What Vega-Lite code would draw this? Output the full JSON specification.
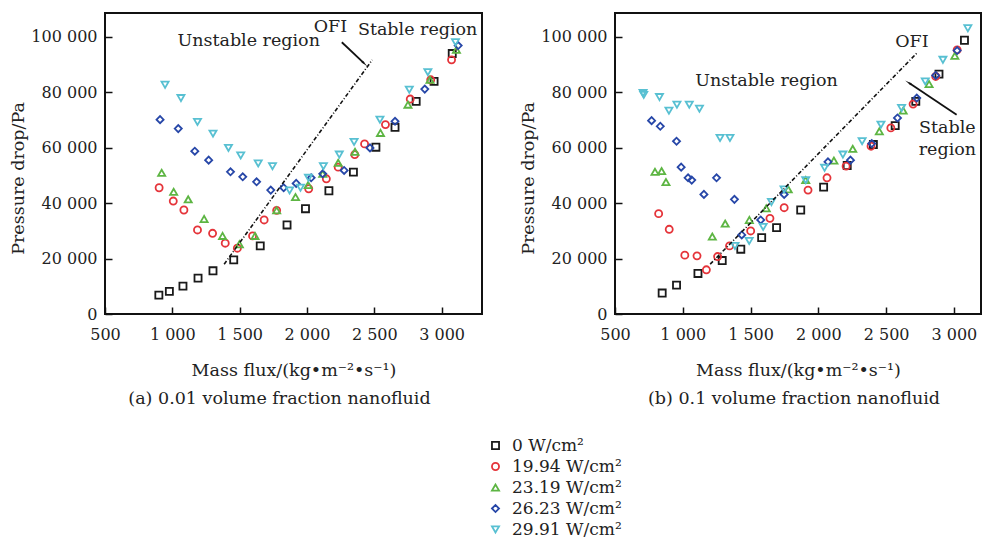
{
  "$schema": "https://vega.github.io/schema/vega-lite/v6.json",
  "background": "white",
  "padding": {"left": 8, "top": 12, "right": 0, "bottom": 0},
  "spacing": 35,
  "config": {
    "font": "DejaVu Serif",
    "view": {"stroke": "#111111", "strokeWidth": 2},
    "axis": {"domain": false, "grid": false, "tickColor": "#111111", "tickSize": -7, "tickWidth": 1.5, "labelFont": "DejaVu Serif", "labelFontSize": 16, "labelColor": "#222222", "titleFont": "DejaVu Serif", "titleFontSize": 17.5, "titleFontWeight": "normal", "titleColor": "#222222", "labelFlush": false},
    "axisX": {"labelPadding": 19, "titlePadding": 19},
    "axisY": {"labelPadding": 15, "titlePadding": 3},
    "title": {"font": "DejaVu Serif", "fontSize": 17.5, "fontWeight": "normal", "color": "#222222", "orient": "bottom", "offset": 11}
  },
  "datasets": {
    "a": [
      {"q": "0 W/cm²", "G": 900, "P": 6800}, {"q": "0 W/cm²", "G": 978, "P": 8150}, {"q": "0 W/cm²", "G": 1079, "P": 10060}, {"q": "0 W/cm²", "G": 1191, "P": 12940}, {"q": "0 W/cm²", "G": 1302, "P": 15570}, {"q": "0 W/cm²", "G": 1456, "P": 19520}, {"q": "0 W/cm²", "G": 1653, "P": 24550}, {"q": "0 W/cm²", "G": 1852, "P": 32100}, {"q": "0 W/cm²", "G": 1989, "P": 37960}, {"q": "0 W/cm²", "G": 2163, "P": 44430}, {"q": "0 W/cm²", "G": 2345, "P": 51140}, {"q": "0 W/cm²", "G": 2512, "P": 60120}, {"q": "0 W/cm²", "G": 2654, "P": 67310}, {"q": "0 W/cm²", "G": 2811, "P": 76650}, {"q": "0 W/cm²", "G": 2944, "P": 83830}, {"q": "0 W/cm²", "G": 3079, "P": 93890},
      {"q": "19.94 W/cm²", "G": 902, "P": 45510}, {"q": "19.94 W/cm²", "G": 1007, "P": 40720}, {"q": "19.94 W/cm²", "G": 1086, "P": 37490}, {"q": "19.94 W/cm²", "G": 1187, "P": 30300}, {"q": "19.94 W/cm²", "G": 1299, "P": 29100}, {"q": "19.94 W/cm²", "G": 1393, "P": 25510}, {"q": "19.94 W/cm²", "G": 1483, "P": 23710}, {"q": "19.94 W/cm²", "G": 1596, "P": 28140}, {"q": "19.94 W/cm²", "G": 1682, "P": 33890}, {"q": "19.94 W/cm²", "G": 1775, "P": 37370}, {"q": "19.94 W/cm²", "G": 2013, "P": 45150}, {"q": "19.94 W/cm²", "G": 2144, "P": 48740}, {"q": "19.94 W/cm²", "G": 2232, "P": 52930}, {"q": "19.94 W/cm²", "G": 2355, "P": 57480}, {"q": "19.94 W/cm²", "G": 2428, "P": 61320}, {"q": "19.94 W/cm²", "G": 2583, "P": 68270}, {"q": "19.94 W/cm²", "G": 2767, "P": 77490}, {"q": "19.94 W/cm²", "G": 2919, "P": 84430}, {"q": "19.94 W/cm²", "G": 3074, "P": 91620},
      {"q": "23.19 W/cm²", "G": 921, "P": 50900}, {"q": "23.19 W/cm²", "G": 1010, "P": 44070}, {"q": "23.19 W/cm²", "G": 1118, "P": 41320}, {"q": "23.19 W/cm²", "G": 1236, "P": 34250}, {"q": "23.19 W/cm²", "G": 1373, "P": 28140}, {"q": "23.19 W/cm²", "G": 1498, "P": 25150}, {"q": "23.19 W/cm²", "G": 1614, "P": 28140}, {"q": "23.19 W/cm²", "G": 1775, "P": 37370}, {"q": "23.19 W/cm²", "G": 1915, "P": 42160}, {"q": "23.19 W/cm²", "G": 2009, "P": 46470}, {"q": "23.19 W/cm²", "G": 2117, "P": 50540}, {"q": "23.19 W/cm²", "G": 2232, "P": 54490}, {"q": "23.19 W/cm²", "G": 2357, "P": 58440}, {"q": "23.19 W/cm²", "G": 2546, "P": 65270}, {"q": "23.19 W/cm²", "G": 2750, "P": 75450}, {"q": "23.19 W/cm²", "G": 2914, "P": 84430}, {"q": "23.19 W/cm²", "G": 3110, "P": 95210},
      {"q": "26.23 W/cm²", "G": 909, "P": 70060}, {"q": "26.23 W/cm²", "G": 1044, "P": 66830}, {"q": "26.23 W/cm²", "G": 1167, "P": 58680}, {"q": "26.23 W/cm²", "G": 1270, "P": 55450}, {"q": "26.23 W/cm²", "G": 1432, "P": 51260}, {"q": "26.23 W/cm²", "G": 1523, "P": 49460}, {"q": "26.23 W/cm²", "G": 1626, "P": 47660}, {"q": "26.23 W/cm²", "G": 1731, "P": 44670}, {"q": "26.23 W/cm²", "G": 1827, "P": 45510}, {"q": "26.23 W/cm²", "G": 1920, "P": 47070}, {"q": "26.23 W/cm²", "G": 2031, "P": 49100}, {"q": "26.23 W/cm²", "G": 2117, "P": 50540}, {"q": "26.23 W/cm²", "G": 2276, "P": 51740}, {"q": "26.23 W/cm²", "G": 2468, "P": 59880}, {"q": "26.23 W/cm²", "G": 2654, "P": 69460}, {"q": "26.23 W/cm²", "G": 2875, "P": 81080}, {"q": "26.23 W/cm²", "G": 3123, "P": 96770},
      {"q": "29.91 W/cm²", "G": 946, "P": 82630}, {"q": "29.91 W/cm²", "G": 1064, "P": 77840}, {"q": "29.91 W/cm²", "G": 1187, "P": 69220}, {"q": "29.91 W/cm²", "G": 1302, "P": 65030}, {"q": "29.91 W/cm²", "G": 1417, "P": 59880}, {"q": "29.91 W/cm²", "G": 1508, "P": 57130}, {"q": "29.91 W/cm²", "G": 1638, "P": 54250}, {"q": "29.91 W/cm²", "G": 1744, "P": 53290}, {"q": "29.91 W/cm²", "G": 1871, "P": 44550}, {"q": "29.91 W/cm²", "G": 1952, "P": 45510}, {"q": "29.91 W/cm²", "G": 2011, "P": 49100}, {"q": "29.91 W/cm²", "G": 2122, "P": 53290}, {"q": "29.91 W/cm²", "G": 2240, "P": 57480}, {"q": "29.91 W/cm²", "G": 2350, "P": 62030}, {"q": "29.91 W/cm²", "G": 2542, "P": 70060}, {"q": "29.91 W/cm²", "G": 2760, "P": 80840}, {"q": "29.91 W/cm²", "G": 2898, "P": 87190}, {"q": "29.91 W/cm²", "G": 3103, "P": 97960}
    ],
    "b": [
      {"q": "0 W/cm²", "G": 848, "P": 7550}, {"q": "0 W/cm²", "G": 954, "P": 10420}, {"q": "0 W/cm²", "G": 1112, "P": 14610}, {"q": "0 W/cm²", "G": 1291, "P": 19280}, {"q": "0 W/cm²", "G": 1428, "P": 23350}, {"q": "0 W/cm²", "G": 1582, "P": 27550}, {"q": "0 W/cm²", "G": 1692, "P": 31140}, {"q": "0 W/cm²", "G": 1870, "P": 37490}, {"q": "0 W/cm²", "G": 2039, "P": 45750}, {"q": "0 W/cm²", "G": 2213, "P": 53530}, {"q": "0 W/cm²", "G": 2406, "P": 61080}, {"q": "0 W/cm²", "G": 2567, "P": 67900}, {"q": "0 W/cm²", "G": 2719, "P": 76650}, {"q": "0 W/cm²", "G": 2890, "P": 86470}, {"q": "0 W/cm²", "G": 3078, "P": 98680},
      {"q": "19.94 W/cm²", "G": 822, "P": 36170}, {"q": "19.94 W/cm²", "G": 900, "P": 30540}, {"q": "19.94 W/cm²", "G": 1015, "P": 21200}, {"q": "19.94 W/cm²", "G": 1105, "P": 20960}, {"q": "19.94 W/cm²", "G": 1174, "P": 15930}, {"q": "19.94 W/cm²", "G": 1257, "P": 20720}, {"q": "19.94 W/cm²", "G": 1345, "P": 24550}, {"q": "19.94 W/cm²", "G": 1501, "P": 29940}, {"q": "19.94 W/cm²", "G": 1643, "P": 34490}, {"q": "19.94 W/cm²", "G": 1748, "P": 38320}, {"q": "19.94 W/cm²", "G": 1924, "P": 44670}, {"q": "19.94 W/cm²", "G": 2064, "P": 49100}, {"q": "19.94 W/cm²", "G": 2205, "P": 53290}, {"q": "19.94 W/cm²", "G": 2389, "P": 60480}, {"q": "19.94 W/cm²", "G": 2535, "P": 67070}, {"q": "19.94 W/cm²", "G": 2699, "P": 75690}, {"q": "19.94 W/cm²", "G": 2866, "P": 85630}, {"q": "19.94 W/cm²", "G": 3024, "P": 95210},
      {"q": "23.19 W/cm²", "G": 795, "P": 51260}, {"q": "23.19 W/cm²", "G": 844, "P": 51500}, {"q": "23.19 W/cm²", "G": 876, "P": 47550}, {"q": "23.19 W/cm²", "G": 1218, "P": 27900}, {"q": "23.19 W/cm²", "G": 1313, "P": 32580}, {"q": "23.19 W/cm²", "G": 1491, "P": 33890}, {"q": "23.19 W/cm²", "G": 1616, "P": 38080}, {"q": "23.19 W/cm²", "G": 1778, "P": 44910}, {"q": "23.19 W/cm²", "G": 1907, "P": 48260}, {"q": "23.19 W/cm²", "G": 2115, "P": 55330}, {"q": "23.19 W/cm²", "G": 2254, "P": 59520}, {"q": "23.19 W/cm²", "G": 2450, "P": 65870}, {"q": "23.19 W/cm²", "G": 2626, "P": 73300}, {"q": "23.19 W/cm²", "G": 2817, "P": 82870}, {"q": "23.19 W/cm²", "G": 3007, "P": 93050},
      {"q": "26.23 W/cm²", "G": 770, "P": 69700}, {"q": "26.23 W/cm²", "G": 834, "P": 67670}, {"q": "26.23 W/cm²", "G": 954, "P": 62270}, {"q": "26.23 W/cm²", "G": 988, "P": 52930}, {"q": "26.23 W/cm²", "G": 1039, "P": 49100}, {"q": "26.23 W/cm²", "G": 1066, "P": 48260}, {"q": "26.23 W/cm²", "G": 1156, "P": 43110}, {"q": "26.23 W/cm²", "G": 1249, "P": 49100}, {"q": "26.23 W/cm²", "G": 1381, "P": 41320}, {"q": "26.23 W/cm²", "G": 1435, "P": 28500}, {"q": "26.23 W/cm²", "G": 1575, "P": 33890}, {"q": "26.23 W/cm²", "G": 1748, "P": 43110}, {"q": "26.23 W/cm²", "G": 2071, "P": 54850}, {"q": "26.23 W/cm²", "G": 2237, "P": 55450}, {"q": "26.23 W/cm²", "G": 2394, "P": 61440}, {"q": "26.23 W/cm²", "G": 2584, "P": 70660}, {"q": "26.23 W/cm²", "G": 2726, "P": 77840}, {"q": "26.23 W/cm²", "G": 2866, "P": 85990}, {"q": "26.23 W/cm²", "G": 3024, "P": 94970},
      {"q": "29.91 W/cm²", "G": 707, "P": 79640}, {"q": "29.91 W/cm²", "G": 712, "P": 79000}, {"q": "29.91 W/cm²", "G": 828, "P": 78200}, {"q": "29.91 W/cm²", "G": 898, "P": 73290}, {"q": "29.91 W/cm²", "G": 957, "P": 75450}, {"q": "29.91 W/cm²", "G": 1048, "P": 75450}, {"q": "29.91 W/cm²", "G": 1123, "P": 74010}, {"q": "29.91 W/cm²", "G": 1275, "P": 63470}, {"q": "29.91 W/cm²", "G": 1348, "P": 63470}, {"q": "29.91 W/cm²", "G": 1385, "P": 24550}, {"q": "29.91 W/cm²", "G": 1490, "P": 26350}, {"q": "29.91 W/cm²", "G": 1593, "P": 31380}, {"q": "29.91 W/cm²", "G": 1654, "P": 40360}, {"q": "29.91 W/cm²", "G": 1747, "P": 44910}, {"q": "29.91 W/cm²", "G": 1907, "P": 48260}, {"q": "29.91 W/cm²", "G": 2046, "P": 52690}, {"q": "29.91 W/cm²", "G": 2181, "P": 57480}, {"q": "29.91 W/cm²", "G": 2323, "P": 62270}, {"q": "29.91 W/cm²", "G": 2462, "P": 68260}, {"q": "29.91 W/cm²", "G": 2614, "P": 74250}, {"q": "29.91 W/cm²", "G": 2789, "P": 83830}, {"q": "29.91 W/cm²", "G": 2919, "P": 91620}, {"q": "29.91 W/cm²", "G": 3103, "P": 102990}
    ],
    "ofiA": [{"G": 1385, "P": 17960}, {"G": 2485, "P": 91600}],
    "ofiB": [{"G": 1202, "P": 17960}, {"G": 2726, "P": 94000}],
    "arrowA": [{"G": 2259, "P": 97950, "G2": 2423, "P2": 90410}],
    "arrowB": [{"G": 3020, "P": 71840, "G2": 2670, "P2": 83230}],
    "textA": [
      {"label": "Unstable region", "G": 1567, "P": 98300},
      {"label": "OFI", "G": 2174, "P": 103340},
      {"label": "Stable region", "G": 2822, "P": 102370}
    ],
    "textB": [
      {"label": "Unstable region", "G": 1618, "P": 84120},
      {"label": "OFI", "G": 2690, "P": 98200},
      {"label": "Stable", "G": 2952, "P": 67060},
      {"label": "region", "G": 2952, "P": 59270}
    ]
  },
  "hconcat": [
    {
      "title": {"text": "(a) 0.01 volume fraction nanofluid", "orient": "bottom", "dx": -14},
      "width": 377,
      "height": 301,
      "encoding": {
        "x": {"field": "G", "type": "quantitative", "scale": {"domain": [500, 3300], "nice": false, "zero": false}, "axis": {"title": "Mass flux/(kg•m⁻²•s⁻¹)", "values": [500, 1000, 1500, 2000, 2500, 3000], "labelExpr": "replace(format(datum.value, ','), ',', ' ')"}},
        "y": {"field": "P", "type": "quantitative", "scale": {"domain": [0, 108500], "nice": false}, "axis": {"title": "Pressure drop/Pa", "values": [0, 20000, 40000, 60000, 80000, 100000], "labelExpr": "replace(format(datum.value, ','), ',', ' ')", "titleY": 165}}
      },
      "layer": [
        {
          "data": {"name": "a"},
          "mark": {"type": "point", "filled": false, "size": 50, "strokeWidth": 1.8, "opacity": 1},
          "encoding": {
            "color": {"field": "q", "type": "nominal", "scale": {"domain": ["0 W/cm²", "19.94 W/cm²", "23.19 W/cm²", "26.23 W/cm²", "29.91 W/cm²"], "range": ["#1a1a1a", "#e5343a", "#5db543", "#2747a8", "#58c0d2"]}, "legend": {"title": null, "orient": "none", "legendX": 382, "legendY": 424, "labelFont": "DejaVu Serif", "labelFontSize": 17, "labelColor": "#222222", "symbolSize": 50, "symbolStrokeWidth": 1.8, "rowPadding": 3, "labelOffset": 8, "padding": 0}},
            "shape": {"field": "q", "type": "nominal", "scale": {"domain": ["0 W/cm²", "19.94 W/cm²", "23.19 W/cm²", "26.23 W/cm²", "29.91 W/cm²"], "range": ["square", "circle", "triangle-up", "diamond", "triangle-down"]}, "legend": {"title": null, "orient": "none", "legendX": 382, "legendY": 424, "labelFont": "DejaVu Serif", "labelFontSize": 17, "labelColor": "#222222", "symbolSize": 50, "symbolStrokeWidth": 1.8, "rowPadding": 3, "labelOffset": 8, "padding": 0}}
          }
        },
        {
          "data": {"name": "ofiA"},
          "mark": {"type": "line", "color": "#111111", "strokeWidth": 1.6, "strokeDash": [4, 2, 1, 2]},
          "encoding": {}
        },
        {
          "data": {"name": "arrowA"},
          "mark": {"type": "rule", "color": "#111111", "strokeWidth": 1.8},
          "encoding": {"x2": {"field": "G2"}, "y2": {"field": "P2"}}
        },
        {
          "data": {"name": "arrowA"},
          "mark": {"type": "point", "shape": "wedge", "filled": true, "color": "#111111", "size": 70, "angle": 133, "opacity": 1},
          "encoding": {"x": {"field": "G2", "type": "quantitative", "title": "Mass flux/(kg•m⁻²•s⁻¹)"}, "y": {"field": "P2", "type": "quantitative", "title": "Pressure drop/Pa"}}
        },
        {
          "data": {"name": "textA"},
          "mark": {"type": "text", "font": "DejaVu Serif", "fontSize": 17.5, "color": "#222222"},
          "encoding": {"text": {"field": "label"}}
        }
      ]
    },
    {
      "title": {"text": "(b) 0.1 volume fraction nanofluid", "orient": "bottom", "dx": -4},
      "width": 366,
      "height": 301,
      "encoding": {
        "x": {"field": "G", "type": "quantitative", "scale": {"domain": [500, 3200], "nice": false, "zero": false}, "axis": {"title": "Mass flux/(kg•m⁻²•s⁻¹)", "values": [500, 1000, 1500, 2000, 2500, 3000], "labelExpr": "replace(format(datum.value, ','), ',', ' ')"}},
        "y": {"field": "P", "type": "quantitative", "scale": {"domain": [0, 108500], "nice": false}, "axis": {"title": "Pressure drop/Pa", "values": [0, 20000, 40000, 60000, 80000, 100000], "labelExpr": "replace(format(datum.value, ','), ',', ' ')", "titleY": 165}}
      },
      "layer": [
        {
          "data": {"name": "b"},
          "mark": {"type": "point", "filled": false, "size": 50, "strokeWidth": 1.8, "opacity": 1},
          "encoding": {
            "color": {"field": "q", "type": "nominal"},
            "shape": {"field": "q", "type": "nominal"}
          }
        },
        {
          "data": {"name": "ofiB"},
          "mark": {"type": "line", "color": "#111111", "strokeWidth": 1.6, "strokeDash": [4, 2, 1, 2]},
          "encoding": {}
        },
        {
          "data": {"name": "arrowB"},
          "mark": {"type": "rule", "color": "#111111", "strokeWidth": 1.8},
          "encoding": {"x2": {"field": "G2"}, "y2": {"field": "P2"}}
        },
        {
          "data": {"name": "arrowB"},
          "mark": {"type": "point", "shape": "wedge", "filled": true, "color": "#111111", "size": 70, "angle": 304, "opacity": 1},
          "encoding": {"x": {"field": "G2", "type": "quantitative", "title": "Mass flux/(kg•m⁻²•s⁻¹)"}, "y": {"field": "P2", "type": "quantitative", "title": "Pressure drop/Pa"}}
        },
        {
          "data": {"name": "textB"},
          "mark": {"type": "text", "font": "DejaVu Serif", "fontSize": 17.5, "color": "#222222"},
          "encoding": {"text": {"field": "label"}}
        }
      ]
    }
  ]
}
